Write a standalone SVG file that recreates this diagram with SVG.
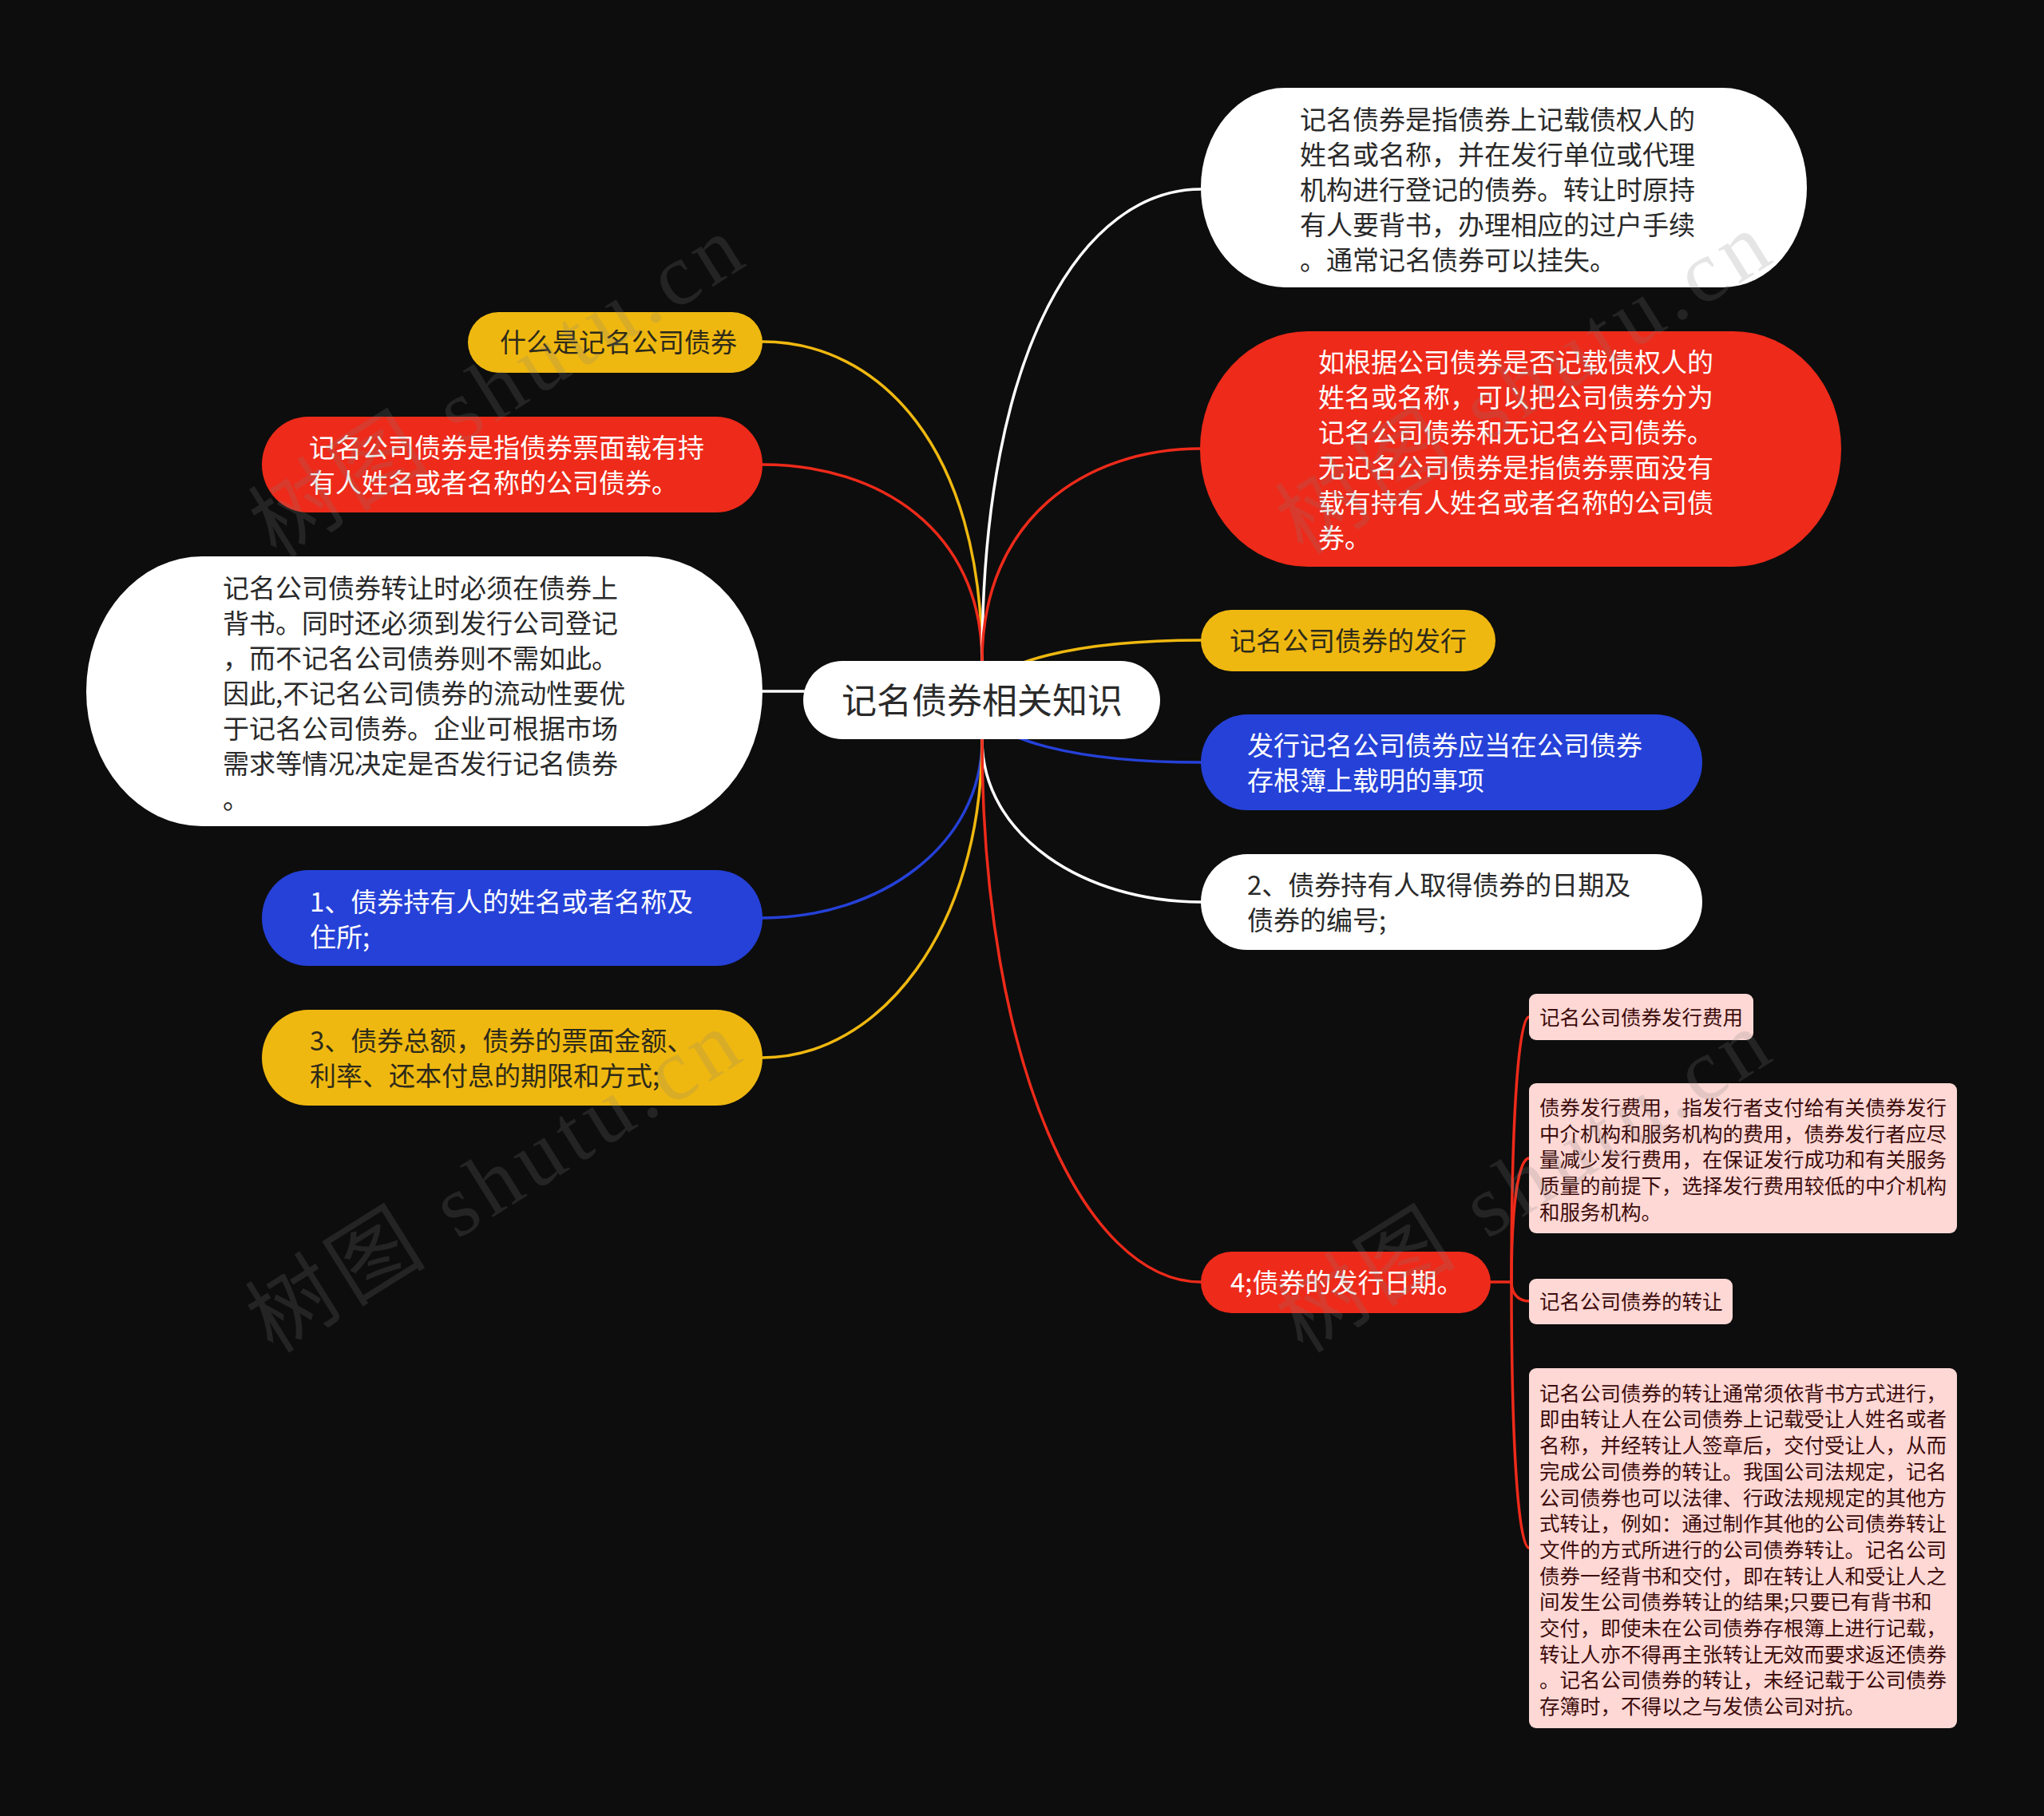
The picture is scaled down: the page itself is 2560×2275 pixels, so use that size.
<svg xmlns="http://www.w3.org/2000/svg" width="2560" height="2275" viewBox="0 0 2560 2275">
<style>
text{font-family:'Noto Sans CJK SC','Noto Sans',sans-serif}
.t33{font-size:33px}
.t44{font-size:44px}
.t25{font-size:25.5px}
.dk{fill:#2a2a2a}
.wt{fill:#ffffff}
.yt{fill:#2e2a1a}
.pt{fill:#3d0c0c}
.c{fill:none;stroke-width:3.5;stroke-linecap:round}
.wm{font-family:'Liberation Serif','Noto Sans CJK SC',serif;font-size:110px;letter-spacing:8px;fill:#808080;opacity:0.2}
</style>
<rect x="0" y="0" width="2560" height="2275" fill="#0d0d0d"/>
<g id="connectors">
<path class="c" stroke="#efb810" d="M955 428 C1101 428 1230 560 1230 829"/>
<path class="c" stroke="#ee2a1a" d="M955 582 C1101 582 1230 664 1230 829"/>
<path class="c" stroke="#ffffff" d="M955 866 L1007 866"/>
<path class="c" stroke="#2541d8" d="M955 1150 C1101 1150 1230 1060 1230 926"/>
<path class="c" stroke="#efb810" d="M955 1325 C1101 1325 1230 1165 1230 926"/>
<path class="c" stroke="#ffffff" d="M1504 237 C1359 237 1230 431 1230 829"/>
<path class="c" stroke="#ee2a1a" d="M1504 562 C1359 562 1230 650 1230 829"/>
<path class="c" stroke="#efb810" d="M1504 802 C1359 802 1230 827 1230 877"/>
<path class="c" stroke="#2541d8" d="M1504 955 C1359 955 1230 930 1230 877"/>
<path class="c" stroke="#ffffff" d="M1504 1130 C1359 1130 1230 1048 1230 926"/>
<path class="c" stroke="#ee2a1a" d="M1504 1606 C1359 1606 1230 1334 1230 926"/>
<path class="c" stroke="#ee2a1a" d="M1867 1606 L1893 1606"/>
<path class="c" stroke="#ee2a1a" d="M1915 1274 C1903 1274 1893 1384 1893 1606"/>
<path class="c" stroke="#ee2a1a" d="M1915 1451 C1903 1451 1893 1502 1893 1606"/>
<path class="c" stroke="#ee2a1a" d="M1915 1630 C1903 1630 1893 1622 1893 1606"/>
<path class="c" stroke="#ee2a1a" d="M1915 1939 C1903 1939 1893 1829 1893 1606"/>
</g>
<g id="center">
<rect x="1006" y="828" width="447" height="98" rx="49" fill="#ffffff"/>
<text class="t44 dk" x="1230" y="894" text-anchor="middle">记名债券相关知识</text>
</g>
<g id="r1">
<rect x="1504" y="110" width="759" height="250" rx="105" ry="125" fill="#ffffff"/>
<text class="t33 dk"><tspan x="1628" y="161.5">记名债券是指债券上记载债权人的</tspan><tspan x="1628" y="205.5">姓名或名称，并在发行单位或代理</tspan><tspan x="1628" y="249.5">机构进行登记的债券。转让时原持</tspan><tspan x="1628" y="293.5">有人要背书，办理相应的过户手续</tspan><tspan x="1628" y="337.5">。通常记名债券可以挂失。</tspan></text>
</g>
<g id="r2">
<rect x="1503" y="415" width="803" height="295" rx="135" ry="147" fill="#ee2a1a"/>
<text class="t33 wt"><tspan x="1651" y="465.5">如根据公司债券是否记载债权人的</tspan><tspan x="1651" y="509.5">姓名或名称，可以把公司债券分为</tspan><tspan x="1651" y="553.5">记名公司债券和无记名公司债券。</tspan><tspan x="1651" y="597.5">无记名公司债券是指债券票面没有</tspan><tspan x="1651" y="641.5">载有持有人姓名或者名称的公司债</tspan><tspan x="1651" y="685.5">券。</tspan></text>
</g>
<g id="r3">
<rect x="1504" y="764" width="369" height="77" rx="38.5" fill="#efb810"/>
<text class="t33 yt" x="1540" y="814.5">记名公司债券的发行</text>
</g>
<g id="r4">
<rect x="1504" y="895" width="628" height="120" rx="58" ry="60" fill="#2541d8"/>
<text class="t33 wt"><tspan x="1562" y="945.5">发行记名公司债券应当在公司债券</tspan><tspan x="1562" y="989.5">存根簿上载明的事项</tspan></text>
</g>
<g id="r5">
<rect x="1504" y="1070" width="628" height="120" rx="58" ry="60" fill="#ffffff"/>
<text class="t33 dk"><tspan x="1562" y="1120.5">2、债券持有人取得债券的日期及</tspan><tspan x="1562" y="1164.5">债券的编号;</tspan></text>
</g>
<g id="r6">
<rect x="1504" y="1568" width="363" height="77" rx="38.5" fill="#ee2a1a"/>
<text class="t33 wt" x="1541" y="1618.5">4;债券的发行日期。</text>
</g>
<g id="r6a">
<rect x="1915" y="1245" width="281" height="58" rx="9" fill="#fdd8d5"/>
<text class="t25 pt" x="1928" y="1283.7">记名公司债券发行费用</text>
</g>
<g id="r6b">
<rect x="1915" y="1357" width="536" height="188" rx="9" fill="#fdd8d5"/>
<text class="t25 pt"><tspan x="1928" y="1396.7">债券发行费用，指发行者支付给有关债券发行</tspan><tspan x="1928" y="1429.5">中介机构和服务机构的费用，债券发行者应尽</tspan><tspan x="1928" y="1462.2">量减少发行费用，在保证发行成功和有关服务</tspan><tspan x="1928" y="1495">质量的前提下，选择发行费用较低的中介机构</tspan><tspan x="1928" y="1527.7">和服务机构。</tspan></text>
</g>
<g id="r6c">
<rect x="1915" y="1602" width="255" height="57" rx="9" fill="#fdd8d5"/>
<text class="t25 pt" x="1928" y="1639.7">记名公司债券的转让</text>
</g>
<g id="r6d">
<rect x="1915" y="1714" width="536" height="451" rx="9" fill="#fdd8d5"/>
<text class="t25 pt"><tspan x="1928" y="1754.7">记名公司债券的转让通常须依背书方式进行，</tspan><tspan x="1928" y="1787.4">即由转让人在公司债券上记载受让人姓名或者</tspan><tspan x="1928" y="1820.1">名称，并经转让人签章后，交付受让人，从而</tspan><tspan x="1928" y="1852.8">完成公司债券的转让。我国公司法规定，记名</tspan><tspan x="1928" y="1885.5">公司债券也可以法律、行政法规规定的其他方</tspan><tspan x="1928" y="1918.2">式转让，例如：通过制作其他的公司债券转让</tspan><tspan x="1928" y="1950.9">文件的方式所进行的公司债券转让。记名公司</tspan><tspan x="1928" y="1983.6">债券一经背书和交付，即在转让人和受让人之</tspan><tspan x="1928" y="2016.3">间发生公司债券转让的结果;只要已有背书和</tspan><tspan x="1928" y="2049">交付，即使未在公司债券存根簿上进行记载，</tspan><tspan x="1928" y="2081.7">转让人亦不得再主张转让无效而要求返还债券</tspan><tspan x="1928" y="2114.4">。记名公司债券的转让，未经记载于公司债券</tspan><tspan x="1928" y="2147.1">存簿时，不得以之与发债公司对抗。</tspan></text>
</g>
<g id="l1">
<rect x="586" y="391" width="369" height="76" rx="38" fill="#efb810"/>
<text class="t33 yt" x="626" y="440.5">什么是记名公司债券</text>
</g>
<g id="l2">
<rect x="328" y="522" width="627" height="120" rx="58" ry="60" fill="#ee2a1a"/>
<text class="t33 wt"><tspan x="387" y="572.5">记名公司债券是指债券票面载有持</tspan><tspan x="387" y="616.5">有人姓名或者名称的公司债券。</tspan></text>
</g>
<g id="l3">
<rect x="108" y="697" width="847" height="338" rx="145" ry="169" fill="#ffffff"/>
<text class="t33 dk"><tspan x="279" y="748.5">记名公司债券转让时必须在债券上</tspan><tspan x="279" y="792.5">背书。同时还必须到发行公司登记</tspan><tspan x="279" y="836.5">，而不记名公司债券则不需如此。</tspan><tspan x="279" y="880.5">因此,不记名公司债券的流动性要优</tspan><tspan x="279" y="924.5">于记名公司债券。企业可根据市场</tspan><tspan x="279" y="968.5">需求等情况决定是否发行记名债券</tspan><tspan x="279" y="1012.5">。</tspan></text>
</g>
<g id="l4">
<rect x="328" y="1090" width="627" height="120" rx="58" ry="60" fill="#2541d8"/>
<text class="t33 wt"><tspan x="388" y="1141.5">1、债券持有人的姓名或者名称及</tspan><tspan x="388" y="1185.5">住所;</tspan></text>
</g>
<g id="l5">
<rect x="328" y="1265" width="627" height="120" rx="58" ry="60" fill="#efb810"/>
<text class="t33 yt"><tspan x="388" y="1315.5">3、债券总额，债券的票面金额、</tspan><tspan x="388" y="1359.5">利率、还本付息的期限和方式;</tspan></text>
</g>
<g id="watermarks">
<text class="wm" x="645" y="514" text-anchor="middle" transform="rotate(-32 645 514)">树图 shutu.cn</text>
<text class="wm" x="641" y="1510" text-anchor="middle" transform="rotate(-32 641 1510)">树图 shutu.cn</text>
<text class="wm" x="1931" y="510" text-anchor="middle" transform="rotate(-32 1931 510)">树图 shutu.cn</text>
<text class="wm" x="1931" y="1510" text-anchor="middle" transform="rotate(-32 1931 1510)">树图 shutu.cn</text>
</g>
</svg>
